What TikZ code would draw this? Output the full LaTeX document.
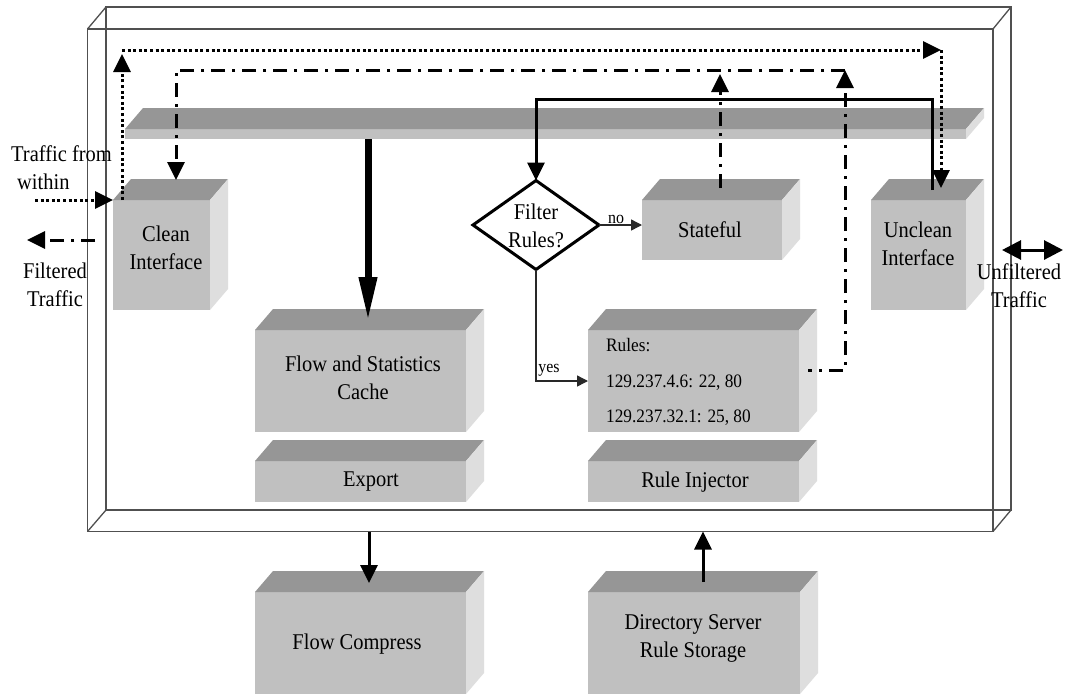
\documentclass[tikz,border=0pt]{standalone}
\usepackage{fontspec}
\setmainfont{Liberation Serif}[FakeStretch=0.91]
\usetikzlibrary{arrows.meta,shapes.geometric,calc}
\definecolor{frontc}{RGB}{192,192,192}
\definecolor{topc}{RGB}{150,150,150}
\definecolor{sidec}{RGB}{222,222,222}
\definecolor{framec}{RGB}{80,80,80}
\definecolor{thinc}{RGB}{40,40,40}
\tikzset{
  frontbox/.style={fill=frontc, inner sep=0pt, outer sep=0pt, anchor=north west},
  lbl/.style={font=\fontsize{22.5}{28}\selectfont, align=center, inner sep=0pt, text=black},
  smalllbl/.style={font=\fontsize{17.5}{18}\selectfont, inner sep=0pt},
  ruletxt/.style={font=\fontsize{19}{35.5}\selectfont, align=left, inner sep=0pt, anchor=west},
  bigtip/.style={-{Triangle[length=18pt,width=17pt]}},
  dotpat/.style={line width=3pt, dash pattern=on 3pt off 2.6pt},
  dashpat/.style={line width=3pt, dash pattern=on 14pt off 7pt on 3pt off 7pt},
  solidln/.style={line width=3pt},
  thinln/.style={line width=1.4pt, color=thinc, -{Triangle[length=11pt,width=11pt]}},
  framel/.style={draw=framec, line width=1.3pt},
}
\newcommand\mycube[5]{%
  \node[frontbox, minimum width=#4pt, minimum height=#5pt] (#1) at (#2,#3) {};
  \fill[topc] (#1.north west) -- ++(18,-21) -- ($(#1.north east)+(18,-21)$) -- (#1.north east) -- cycle;
  \fill[sidec] (#1.north east) -- ++(18,-21) -- ($(#1.south east)+(18,-21)$) -- (#1.south east) -- cycle;
}
\begin{document}
\begin{tikzpicture}[x={(1pt,0pt)}, y={(0pt,-1pt)}]
\fill[white] (0,0) rectangle (1065,694);
\useasboundingbox (0,0) rectangle (1065,694);

% outer 3D frame
\draw[framel] (106,7) rectangle (1011,510);
\node[framel, draw, minimum width=905.5pt, minimum height=502.5pt, anchor=north west, inner sep=0pt, outer sep=0pt] (frame) at (87.5,29) {};
\draw[framel] (frame.north west) -- (106,7);
\draw[framel] (frame.north east) -- (1011,7);
\draw[framel] (frame.south west) -- (106,510);
\draw[framel] (frame.south east) -- (1011,510);

% boxes
\mycube{bus}{125}{129}{841}{10}
\mycube{clean}{113}{200}{97}{110}
\mycube{stateful}{642}{200}{140}{60}
\mycube{unclean}{871}{200}{95}{110}
\mycube{cache}{255}{330}{211}{102}
\mycube{export}{255}{461}{211}{41}
\mycube{rules}{588}{330}{211}{102}
\mycube{injector}{588}{461}{211}{41}
\mycube{compress}{255}{592}{211}{102}
\mycube{directory}{588}{592}{212}{102}

\node[diamond, draw, line width=3pt, fill=white, minimum width=126pt, minimum height=89pt, inner sep=0pt, outer sep=0pt] (filter) at (536,225) {};

% texts
\node[lbl] (tClean) at (166,247.5) {Clean\\Interface};
\node[lbl] (tState) at (710,230) {Stateful};
\node[lbl] (tUnclean) at (918,244) {Unclean\\Interface};
\node[lbl] (tFilter) at (536,226) {Filter\\Rules?};
\node[lbl] (tCache) at (363,378) {Flow and Statistics\\Cache};
\node[lbl] (tExport) at (371,482) {Export};
\node[lbl] (tInj) at (695,482) {Rule Injector};
\node[ruletxt] (tRules) at (606,382) {Rules:\\129.237.4.6: 22, 80\\129.237.32.1: 25, 80};
\node[lbl] (tComp) at (357,644) {Flow Compress};
\node[lbl] (tDir) at (693,638) {Directory Server\\Rule Storage};
\node[lbl, align=left, anchor=west] (tWithin) at (11,168) {Traffic from\\\hspace*{6pt}within};
\node[lbl] (tFilt) at (55,284.5) {Filtered\\Traffic};
\node[lbl] (tUnf) at (1019,286) {Unfiltered\\Traffic};
\node[smalllbl] (tno) at (616,219) {no};
\node[smalllbl] (tyes) at (549,370) {yes};

% dotted path (traffic from within)
\coordinate (tfw) at (35,200);
\coordinate (dA) at (122,50);
\coordinate (dB) at (941,50);
\draw[dotpat, bigtip] (tfw) -- (clean.north west);
\draw[dotpat, bigtip] ($(clean.north west)+(9,0)$) -- ($(dA)+(0,4)$);
\draw[dotpat, bigtip] (dA) -- (dB);
\draw[dotpat, bigtip] (dB) -- ($(unclean.north west)+(70,-12)$);

% dash-dot path
\coordinate (eA) at (176,70);
\coordinate (eB) at (845,70);
\draw[dashpat, bigtip] (eB) -- (eA) -- ($(clean.north west)+(63,-20)$);
\coordinate (sTop) at ($(stateful.north west)+(78,-12)$);
\draw[dashpat, bigtip, shorten >=4pt] (sTop) -- (sTop |- eA);
\coordinate (rTop) at ($(rules.east)+(9,-11)$);
\draw[dashpat, bigtip, dash phase=10pt] (rTop) -- (rTop -| eB) -- (eB);

% solid path unclean -> filter
\coordinate (uTop) at ($(unclean.north west)+(61,-10)$);
\coordinate (sB) at (536,99);
\draw[solidln, bigtip] (uTop) |- (sB) -- (filter.north);

% no / yes
\draw[thinln] (filter.east) -- (filter.east -| stateful.west);
\draw[thinln] (filter.south) |- (rules.west);

% bus -> cache
\coordinate (cTop) at ($(cache.north west)+(113,-9)$);
\draw[line width=7pt, -{Triangle[length=44pt,width=17pt]}] (bus.south -| cTop) -- (cTop);

% bottom arrows
\coordinate (compTop) at ($(compress.north west)+(114,-9)$);
\draw[solidln, bigtip] (frame.south -| compTop) -- (compTop);
\coordinate (dirTop) at ($(directory.north west)+(115,-10)$);
\draw[solidln, bigtip] (dirTop) -- (dirTop |- frame.south);

% outside traffic arrows
\coordinate (ftA) at (95,240);
\coordinate (ftB) at (27,240);
\draw[dashpat, bigtip] (ftA) -- (ftB);
\coordinate (ufA) at (1002,250);
\coordinate (ufB) at (1063,250);
\draw[line width=3pt, {Triangle[length=19pt,width=19pt]}-{Triangle[length=19pt,width=19pt]}] (ufA) -- (ufB);
\end{tikzpicture}
\end{document}
